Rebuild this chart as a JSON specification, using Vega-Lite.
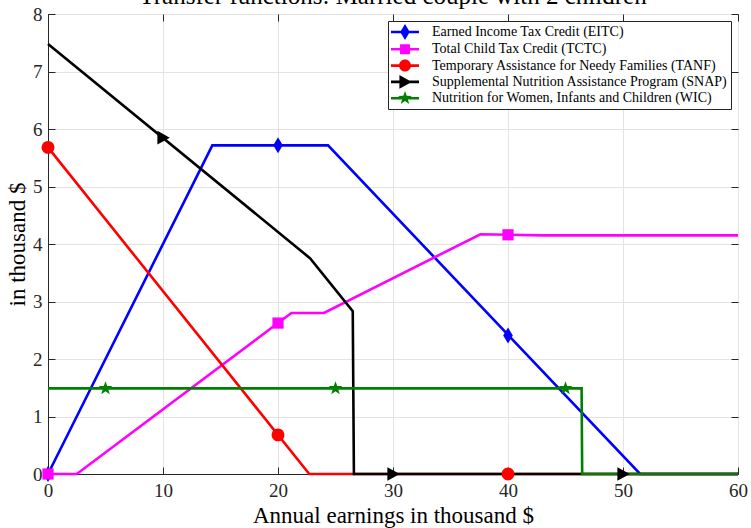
{
  "$schema": "https://vega.github.io/schema/vega-lite/v6.json",
  "width": 690,
  "height": 460,
  "autosize": {"type": "none"},
  "padding": {"left": 48, "top": 14, "right": 13, "bottom": 54},
  "background": "white",
  "config": {
    "view": {"stroke": "#262626", "strokeWidth": 1},
    "font": "Liberation Serif"
  },
  "title": {
    "text": "Transfer functions: Married couple with 2 children",
    "font": "Liberation Serif",
    "fontSize": 25,
    "fontWeight": "normal",
    "color": "#000000",
    "anchor": "middle",
    "baseline": "alphabetic",
    "offset": -24
  },
  "datasets": {
    "lines": [
      {"program": "Earned Income Tax Credit (EITC)", "earnings": 0, "amount": 0},
      {"program": "Earned Income Tax Credit (EITC)", "earnings": 14.29, "amount": 5.716},
      {"program": "Earned Income Tax Credit (EITC)", "earnings": 24.35, "amount": 5.716},
      {"program": "Earned Income Tax Credit (EITC)", "earnings": 51.49, "amount": 0},
      {"program": "Earned Income Tax Credit (EITC)", "earnings": 60, "amount": 0},
      {"program": "Total Child Tax Credit (TCTC)", "earnings": 0, "amount": 0},
      {"program": "Total Child Tax Credit (TCTC)", "earnings": 2.5, "amount": 0},
      {"program": "Total Child Tax Credit (TCTC)", "earnings": 20, "amount": 2.625},
      {"program": "Total Child Tax Credit (TCTC)", "earnings": 21.17, "amount": 2.8},
      {"program": "Total Child Tax Credit (TCTC)", "earnings": 24, "amount": 2.8},
      {"program": "Total Child Tax Credit (TCTC)", "earnings": 37.6, "amount": 4.17},
      {"program": "Total Child Tax Credit (TCTC)", "earnings": 43, "amount": 4.15},
      {"program": "Total Child Tax Credit (TCTC)", "earnings": 60, "amount": 4.15},
      {"program": "Temporary Assistance for Needy Families (TANF)", "earnings": 0, "amount": 5.68},
      {"program": "Temporary Assistance for Needy Families (TANF)", "earnings": 22.72, "amount": 0},
      {"program": "Temporary Assistance for Needy Families (TANF)", "earnings": 60, "amount": 0},
      {"program": "Supplemental Nutrition Assistance Program (SNAP)", "earnings": 0, "amount": 7.48},
      {"program": "Supplemental Nutrition Assistance Program (SNAP)", "earnings": 22.8, "amount": 3.75},
      {"program": "Supplemental Nutrition Assistance Program (SNAP)", "earnings": 26.5, "amount": 2.83},
      {"program": "Supplemental Nutrition Assistance Program (SNAP)", "earnings": 26.6, "amount": 0},
      {"program": "Supplemental Nutrition Assistance Program (SNAP)", "earnings": 60, "amount": 0},
      {"program": "Nutrition for Women, Infants and Children (WIC)", "earnings": 0, "amount": 1.49},
      {"program": "Nutrition for Women, Infants and Children (WIC)", "earnings": 46.4, "amount": 1.49},
      {"program": "Nutrition for Women, Infants and Children (WIC)", "earnings": 46.45, "amount": 0},
      {"program": "Nutrition for Women, Infants and Children (WIC)", "earnings": 60, "amount": 0}
    ],
    "markers": [
      {"program": "Earned Income Tax Credit (EITC)", "earnings": 0, "amount": 0},
      {"program": "Earned Income Tax Credit (EITC)", "earnings": 20, "amount": 5.716},
      {"program": "Earned Income Tax Credit (EITC)", "earnings": 40, "amount": 2.41},
      {"program": "Total Child Tax Credit (TCTC)", "earnings": 0, "amount": 0},
      {"program": "Total Child Tax Credit (TCTC)", "earnings": 20, "amount": 2.625},
      {"program": "Total Child Tax Credit (TCTC)", "earnings": 40, "amount": 4.16},
      {"program": "Temporary Assistance for Needy Families (TANF)", "earnings": 0, "amount": 5.68},
      {"program": "Temporary Assistance for Needy Families (TANF)", "earnings": 20, "amount": 0.68},
      {"program": "Temporary Assistance for Needy Families (TANF)", "earnings": 40, "amount": 0},
      {"program": "Supplemental Nutrition Assistance Program (SNAP)", "earnings": 10, "amount": 5.85},
      {"program": "Supplemental Nutrition Assistance Program (SNAP)", "earnings": 30, "amount": 0},
      {"program": "Supplemental Nutrition Assistance Program (SNAP)", "earnings": 50, "amount": 0},
      {"program": "Nutrition for Women, Infants and Children (WIC)", "earnings": 5, "amount": 1.49},
      {"program": "Nutrition for Women, Infants and Children (WIC)", "earnings": 25, "amount": 1.49},
      {"program": "Nutrition for Women, Infants and Children (WIC)", "earnings": 45, "amount": 1.49}
    ]
  },
  "resolve": {"axis": {"x": "independent", "y": "independent"}},
  "layer": [
    {
      "data": {"name": "lines"},
      "mark": {"type": "line", "strokeWidth": 2.6, "clip": false},
      "encoding": {
        "x": {
          "field": "earnings", "type": "quantitative",
          "scale": {"domain": [0, 60], "nice": false, "zero": false},
          "axis": {
            "orient": "bottom",
            "title": "Annual earnings in thousand $",
            "titleFont": "Liberation Serif", "titleFontSize": 23, "titleFontWeight": "normal", "titleColor": "#000000",
            "titlePadding": 4,
            "values": [0, 10, 20, 30, 40, 50, 60],
            "labelFont": "Liberation Serif", "labelFontSize": 19, "labelColor": "#262626",
            "labelPadding": 14,
            "labelFlush": false,
            "grid": true, "gridColor": "#e3e3e3", "gridWidth": 1,
            "domainColor": "#262626", "domainWidth": 1,
            "tickColor": "#262626", "tickSize": -7, "tickWidth": 1
          }
        },
        "y": {
          "field": "amount", "type": "quantitative",
          "scale": {"domain": [0, 8], "nice": false, "zero": false},
          "axis": {
            "orient": "left",
            "title": "in thousand $",
            "titleFont": "Liberation Serif", "titleFontSize": 23, "titleFontWeight": "normal", "titleColor": "#000000",
            "titlePadding": 3,
            "values": [0, 1, 2, 3, 4, 5, 6, 7, 8],
            "labelFont": "Liberation Serif", "labelFontSize": 19, "labelColor": "#262626",
            "labelPadding": 13,
            "labelFlush": false,
            "grid": true, "gridColor": "#e3e3e3", "gridWidth": 1,
            "domainColor": "#262626", "domainWidth": 1,
            "tickColor": "#262626", "tickSize": -7, "tickWidth": 1
          }
        },
        "color": {
          "field": "program", "type": "nominal",
          "scale": {
            "domain": [
              "Earned Income Tax Credit (EITC)",
              "Total Child Tax Credit (TCTC)",
              "Temporary Assistance for Needy Families (TANF)",
              "Supplemental Nutrition Assistance Program (SNAP)",
              "Nutrition for Women, Infants and Children (WIC)"
            ],
            "range": ["#0000ff", "#ff00ff", "#ff0000", "#000000", "#008000"]
          },
          "legend": {
            "title": null,
            "orient": "top-right",
            "offset": 7,
            "padding": 3,
            "fillColor": "#ffffff",
            "strokeColor": "#262626",
            "labelFont": "Liberation Serif",
            "labelFontSize": 14,
            "labelColor": "#000000",
            "labelLimit": 400,
            "labelOffset": 19,
            "rowPadding": 1.3,
            "symbolSize": 256,
            "symbolOffset": 6,
            "symbolStrokeWidth": 0,
            "encode": {
              "symbols": {
                "update": {
                  "shape": {"signal": "datum.index === 0 ? 'M-1.75,-0.16H1.75V0.16H-1.75Z M0,-1L0.6,0L0,1L-0.6,0Z' : datum.index === 1 ? 'M-1.75,-0.16H1.75V0.16H-1.75Z M-0.62,-0.62H0.62V0.62H-0.62Z' : datum.index === 2 ? 'M-1.75,-0.16H1.75V0.16H-1.75Z M0.75,0A0.75,0.75,0,1,1,-0.75,0A0.75,0.75,0,1,1,0.75,0Z' : datum.index === 3 ? 'M-1.75,-0.16H1.75V0.16H-1.75Z M-0.7,-0.85L0.85,0L-0.7,0.85Z' : 'M-1.75,-0.16H1.75V0.16H-1.75Z M0,-0.9L0.212,-0.291L0.856,-0.278L0.342,0.111L0.529,0.728L0,0.36L-0.529,0.728L-0.342,0.111L-0.856,-0.278L-0.212,-0.291Z'"},
                  "fill": {"signal": "scale('color', datum.value)"},
                  "fillOpacity": {"value": 1},
                  "strokeWidth": {"value": 0}
                }
              }
            }
          }
        }
      }
    },
    {
      "data": {"name": "markers"},
      "transform": [{"filter": {"field": "program", "equal": "Earned Income Tax Credit (EITC)"}}],
      "mark": {"type": "point", "shape": "M0,-1L0.6,0L0,1L-0.6,0Z", "filled": true, "size": 256, "opacity": 1, "strokeWidth": 0, "clip": false},
      "encoding": {
        "x": {
          "field": "earnings", "type": "quantitative",
          "axis": {
            "orient": "top", "title": null, "labels": false, "grid": false, "domain": false,
            "values": [0, 10, 20, 30, 40, 50, 60],
            "tickColor": "#262626", "tickSize": -7, "tickWidth": 1
          }
        },
        "y": {
          "field": "amount", "type": "quantitative",
          "axis": {
            "orient": "right", "title": null, "labels": false, "grid": false, "domain": false,
            "values": [0, 1, 2, 3, 4, 5, 6, 7, 8],
            "tickColor": "#262626", "tickSize": -7, "tickWidth": 1
          }
        },
        "color": {"field": "program", "type": "nominal", "legend": null}
      }
    },
    {
      "data": {"name": "markers"},
      "transform": [{"filter": {"field": "program", "equal": "Total Child Tax Credit (TCTC)"}}],
      "mark": {"type": "point", "shape": "M-0.7,-0.7H0.7V0.7H-0.7Z", "filled": true, "size": 256, "opacity": 1, "strokeWidth": 0, "clip": false},
      "encoding": {
        "x": {"field": "earnings", "type": "quantitative", "axis": null},
        "y": {"field": "amount", "type": "quantitative", "axis": null},
        "color": {"field": "program", "type": "nominal", "legend": null}
      }
    },
    {
      "data": {"name": "markers"},
      "transform": [{"filter": {"field": "program", "equal": "Temporary Assistance for Needy Families (TANF)"}}],
      "mark": {"type": "point", "shape": "M0.8,0A0.8,0.8,0,1,1,-0.8,0A0.8,0.8,0,1,1,0.8,0Z", "filled": true, "size": 256, "opacity": 1, "strokeWidth": 0, "clip": false},
      "encoding": {
        "x": {"field": "earnings", "type": "quantitative", "axis": null},
        "y": {"field": "amount", "type": "quantitative", "axis": null},
        "color": {"field": "program", "type": "nominal", "legend": null}
      }
    },
    {
      "data": {"name": "markers"},
      "transform": [{"filter": {"field": "program", "equal": "Supplemental Nutrition Assistance Program (SNAP)"}}],
      "mark": {"type": "point", "shape": "M-0.7,-0.85L0.85,0L-0.7,0.85Z", "filled": true, "size": 256, "opacity": 1, "strokeWidth": 0, "clip": false},
      "encoding": {
        "x": {"field": "earnings", "type": "quantitative", "axis": null},
        "y": {"field": "amount", "type": "quantitative", "axis": null},
        "color": {"field": "program", "type": "nominal", "legend": null}
      }
    },
    {
      "data": {"name": "markers"},
      "transform": [{"filter": {"field": "program", "equal": "Nutrition for Women, Infants and Children (WIC)"}}],
      "mark": {"type": "point", "shape": "M0,-0.9L0.212,-0.291L0.856,-0.278L0.342,0.111L0.529,0.728L0,0.36L-0.529,0.728L-0.342,0.111L-0.856,-0.278L-0.212,-0.291Z", "filled": true, "size": 256, "opacity": 1, "strokeWidth": 0, "clip": false},
      "encoding": {
        "x": {"field": "earnings", "type": "quantitative", "axis": null},
        "y": {"field": "amount", "type": "quantitative", "axis": null},
        "color": {"field": "program", "type": "nominal", "legend": null}
      }
    }
  ]
}
